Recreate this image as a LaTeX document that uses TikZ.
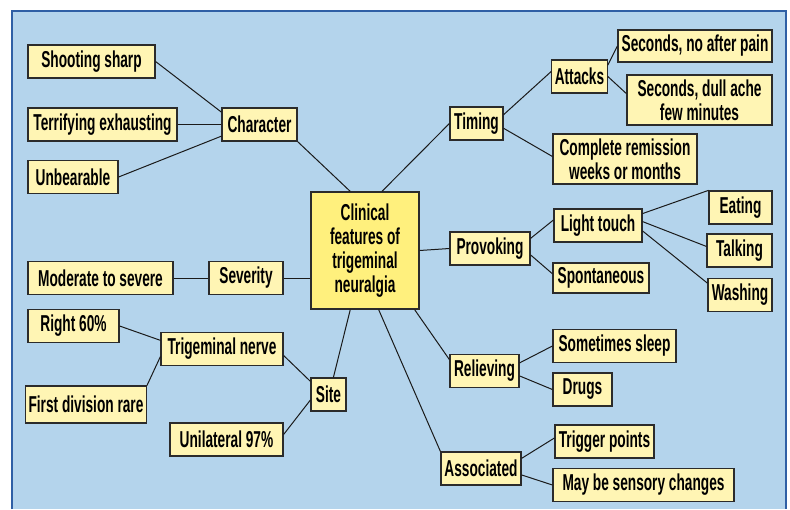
\documentclass[tikz,border=0pt]{standalone}
\usepackage{fontspec}
\newfontfamily\mapfont{Liberation Sans Bold}[FakeStretch=0.595]
\usepackage{xcolor}
\definecolor{cBack}{HTML}{B4D4EC}
\definecolor{cFrame}{HTML}{2F5FA5}
\definecolor{cLeaf}{HTML}{FFF5B4}
\definecolor{cCore}{HTML}{FFF07D}
\definecolor{cEdge}{HTML}{2B2B2B}
\definecolor{cLine}{HTML}{1A1A1A}
\usepackage{tikz}
\usetikzlibrary{positioning,calc}
\tikzset{
  node-leaf/.style={draw=cEdge,line width=1.2pt,fill=cLeaf,inner xsep=3pt,
    inner ysep=1pt,minimum height=33pt,align=center,text=black,
    font=\mapfont\fontsize{23pt}{24pt}\selectfont},
  node-core/.style={node-leaf,fill=cCore,minimum height=117pt},
  % two-line leaves are taller
  node-tall/.style={minimum height=50pt},
  link-line/.style={draw=cLine,line width=1pt},
}

\begin{document}
\begin{tikzpicture}[x=1pt,y=-1pt]
  \useasboundingbox (0,0) rectangle (790,509);
  \fill[white] (0,0) rectangle (790,509);
  \fill[cBack] (12,11) rectangle (786,509);
  \draw[cFrame,line width=2pt] (12,509) |- (786,11) -- (786,509);

  % centre
  \node[node-core,minimum width=108pt] (clin) at (365,250.5)
    {Clinical\\features of\\trigeminal\\neuralgia};

  % character
  \node[node-leaf,minimum width=75pt]  (char)  at (259.5,124.5) {Character};
  \node[node-leaf,minimum width=127pt] (shoot) at (91.5,61.5)   {Shooting sharp};
  \node[node-leaf,minimum width=149pt] (terr)  at (102.5,124.5) {Terrifying exhausting};
  \node[node-leaf,minimum width=90pt]  (unb)   at (73,177)      {Unbearable};

  % timing
  \node[node-leaf,minimum width=53pt]  (timing)  at (476.5,123.5) {Timing};
  \node[node-leaf,minimum width=53pt]  (attacks) at (579.5,76.5)  {Attacks};
  \node[node-leaf,minimum width=154pt,minimum height=32pt] (sec1) at (695,46)
    {Seconds, no after pain};
  \node[node-leaf,node-tall,minimum width=145pt] (sec2) at (699.5,100)
    {Seconds, dull ache\\few minutes};
  \node[node-leaf,node-tall,minimum width=144pt] (compl) at (625,159)
    {Complete remission\\weeks or months};

  % provoking
  \node[node-leaf,minimum width=80pt] (prov)  at (490,248.5)   {Provoking};
  \node[node-leaf,minimum width=88pt] (light) at (598,225.5)   {Light touch};
  \node[node-leaf,minimum width=63pt] (eat)   at (740.5,207.5) {Eating};
  \node[node-leaf,minimum width=65pt] (talk)  at (739.5,250.5) {Talking};
  \node[node-leaf,minimum width=64pt] (wash)  at (740,295)     {Washing};
  \node[node-leaf,minimum width=96pt,minimum height=30pt] (spont) at (601,278)
    {Spontaneous};

  % severity
  \node[node-leaf,minimum width=74pt]  (sev) at (246,278)   {Severity};
  \node[node-leaf,minimum width=145pt] (mod) at (100.5,278) {Moderate to severe};

  % site
  \node[node-leaf,minimum width=35pt]  (site)  at (328.5,394.5) {Site};
  \node[node-leaf,minimum width=122pt] (trig)  at (222,349)     {Trigeminal nerve};
  \node[node-leaf,minimum width=91pt]  (right) at (73.5,326)    {Right 60\%};
  \node[node-leaf,minimum width=120pt,minimum height=37pt] (first) at (86,404.5)
    {First division rare};
  \node[node-leaf,minimum width=113pt] (uni)   at (226.5,439.5) {Unilateral 97\%};

  % relieving
  \node[node-leaf,minimum width=69pt]  (reliev) at (484.5,371) {Relieving};
  \node[node-leaf,minimum width=123pt] (sleep)  at (614.5,346) {Sometimes sleep};
  \node[node-leaf,minimum width=59pt]  (drugs)  at (582.5,389.5) {Drugs};

  % associated
  \node[node-leaf,minimum width=80pt]  (assoc)   at (481,468.5)   {Associated};
  \node[node-leaf,minimum width=99pt]  (trigger) at (604.5,441.5) {Trigger points};
  \node[node-leaf,minimum width=181pt] (maybe)   at (643.5,485)   {May be sensory changes};

  \draw[link-line] (shoot.east) -- (char.162);
  \draw[link-line] (terr.east)  -- (char.west);
  \draw[link-line] (unb.east)   -- (char.197);
  \draw[link-line] (char.south east) -- (clin.104);

  \draw[link-line] (clin.74)    -- (timing.west);
  \draw[link-line] (timing.18)  -- (attacks.170);
  \draw[link-line] (timing.350) -- (compl.178);
  \draw[link-line] (attacks.22) -- (sec1.west);
  \draw[link-line] (attacks.east) -- (sec2.175);

  \draw[link-line] (clin.east)  -- (prov.west);
  \draw[link-line] (prov.14)    -- (light.173);
  \draw[link-line] (prov.351)   -- (spont.175);
  \draw[link-line] (light.15)   -- (eat.north west);
  \draw[link-line] (light.5)    -- (talk.173);
  \draw[link-line] (light.353)  -- (wash.160);

  \draw[link-line] (sev.east)   -- (sev.east -| clin.west);
  \draw[link-line] (mod.east)   -- (sev.west);

  \draw[link-line] (clin.256)   -- (site.74);
  \draw[link-line] (site.144)   -- (trig.354);
  \draw[link-line] (site.197)   -- (uni.5);
  \draw[link-line] (trig.172)   -- (right.east);
  \draw[link-line] (trig.187)   -- (first.north east);

  \draw[link-line] (clin.310)   -- (reliev.162);
  \draw[link-line] (reliev.13)  -- (sleep.west);
  \draw[link-line] (reliev.352) -- (drugs.west);

  \draw[link-line] (clin.283)   -- (assoc.north west);
  \draw[link-line] (assoc.14)   -- (trigger.176);
  \draw[link-line] (assoc.351)  -- (maybe.west);
\end{tikzpicture}
\end{document}
